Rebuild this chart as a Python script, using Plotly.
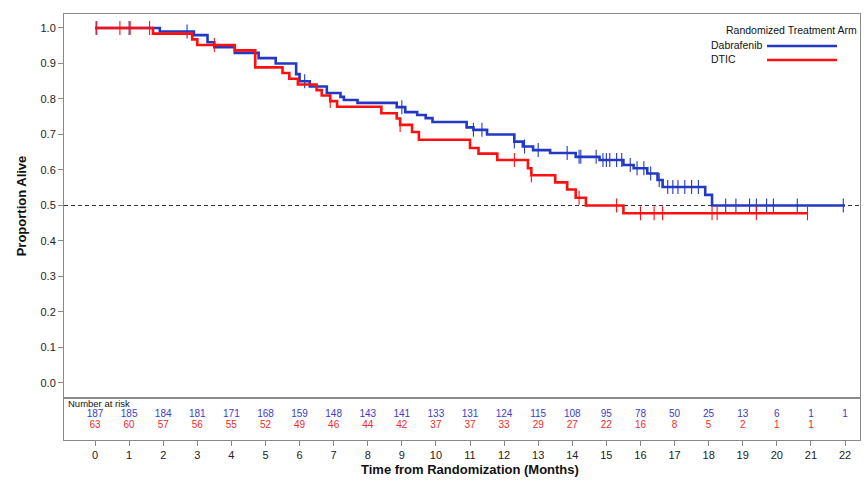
import numpy as np
import plotly.graph_objects as go

# ---------------- data ----------------
# Dabrafenib KM step curve (time in months, survival after each step)
dab_times = [0, 1.9, 2.9, 3.3, 3.5, 4.1, 4.8, 5.3, 5.9, 6.0, 6.3, 6.8, 7.2, 7.3, 7.7,
             8.85, 9.1, 9.45, 9.7, 9.9, 10.9, 11.1, 11.5, 12.3, 12.55, 12.85, 13.35,
             14.1, 14.8, 15.5, 15.8, 16.2, 16.5, 16.65, 17.9, 18.1]
dab_surv = [1.0, 0.99, 0.98, 0.96, 0.946, 0.93, 0.915, 0.90, 0.87, 0.85, 0.835, 0.817,
            0.806, 0.797, 0.789, 0.777, 0.763, 0.755, 0.746, 0.735, 0.72, 0.713, 0.70,
            0.68, 0.666, 0.656, 0.648, 0.637, 0.628, 0.614, 0.605, 0.59, 0.572, 0.552,
            0.53, 0.50]
dab_end = 22.0
dab_censor = [0.05, 1.0, 2.7, 6.15, 9.0, 11.1, 11.35, 12.3, 12.6, 13.0, 13.85, 14.2,
              14.25, 14.7, 14.9, 15.0, 15.1, 15.3, 15.45, 15.7, 15.9, 16.1, 16.3, 16.55,
              16.8, 16.95, 17.1, 17.3, 17.5, 17.7, 18.5, 18.8, 19.2, 19.4, 19.7, 19.9,
              20.6, 21.95]

# DTIC KM step curve
dtic_times = [0, 1.7, 2.85, 3.0, 4.1, 4.7, 5.5, 5.7, 5.95, 6.5, 6.65, 6.9, 7.1, 8.4,
              8.85, 8.95, 9.3, 9.5, 11.0, 11.25, 11.8, 12.7, 12.8, 13.5, 13.85, 14.1,
              14.4, 15.5]
dtic_surv = [1.0, 0.984, 0.968, 0.952, 0.937, 0.889, 0.873, 0.857, 0.841, 0.825, 0.810,
             0.794, 0.778, 0.760, 0.745, 0.727, 0.707, 0.685, 0.662, 0.646, 0.628, 0.605,
             0.585, 0.565, 0.545, 0.522, 0.50, 0.478]
dtic_end = 20.9
dtic_censor = [0.03, 0.73, 1.03, 1.6, 3.5, 6.9, 8.95, 12.3, 12.8, 14.2, 15.3, 16.0, 16.4,
               16.65, 18.1, 18.25, 19.4, 20.9]

# Number at risk
risk_months = list(range(0, 23))
dab_risk = [187, 185, 184, 181, 171, 168, 159, 148, 143, 141, 133, 131, 124, 115, 108,
            95, 78, 50, 25, 13, 6, 1, 1]
dtic_risk = [63, 60, 57, 56, 55, 52, 49, 46, 44, 42, 37, 37, 33, 29, 27, 22, 16, 8, 5,
             2, 1, 1]

y_ticks = [0.0, 0.1, 0.2, 0.3, 0.4, 0.5, 0.6, 0.7, 0.8, 0.9, 1.0]
x_ticks = list(range(0, 23))

BLUE = "#2339c4"
RED = "#ff1010"
BLUE_TXT = "#3b3bd0"
RED_TXT = "#ee2a2a"
FRAME = "#8a8a8a"
FONT = "Liberation Sans, Arial, sans-serif"


def step_at(times, surv, t):
    i = np.searchsorted(np.array(times), t, side="right") - 1
    return surv[max(i, 0)]


fig = go.Figure()

for times, surv, end, cens, col, name in [
    (dab_times, dab_surv, dab_end, dab_censor, BLUE, "Dabrafenib"),
    (dtic_times, dtic_surv, dtic_end, dtic_censor, RED, "DTIC"),
]:
    xs = list(times) + [end]
    ys = list(surv) + [surv[-1]]
    fig.add_trace(go.Scatter(x=xs, y=ys, mode="lines", line=dict(color=col, width=2.6, shape="hv"),
                             name=name, showlegend=False, xaxis="x", yaxis="y"))
    cy = [step_at(times, surv, t) for t in cens]
    fig.add_trace(go.Scatter(x=cens, y=cy, mode="markers",
                             marker=dict(symbol="line-ns", size=10, line=dict(color=col, width=1.1)),
                             showlegend=False, xaxis="x", yaxis="y", hoverinfo="skip"))

# number at risk rows
fig.add_trace(go.Scatter(x=risk_months, y=[0.60] * len(dab_risk), mode="text",
                         text=[str(v) for v in dab_risk],
                         textfont=dict(color=BLUE_TXT, size=10, family=FONT),
                         showlegend=False, xaxis="x2", yaxis="y2", cliponaxis=False))
fig.add_trace(go.Scatter(x=risk_months[:len(dtic_risk)], y=[0.35] * len(dtic_risk), mode="text",
                         text=[str(v) for v in dtic_risk],
                         textfont=dict(color=RED_TXT, size=10, family=FONT),
                         showlegend=False, xaxis="x2", yaxis="y2", cliponaxis=False))

D = (440 - 398) / 426.0
XR = [-0.91, 22.44]

fig.update_layout(
    width=864, height=484,
    margin=dict(l=64, r=4, t=14, b=44),
    paper_bgcolor="white", plot_bgcolor="white",
    font=dict(family=FONT, color="#222"),
    showlegend=False,
    xaxis=dict(domain=[0, 1], anchor="y", range=XR, showline=True, mirror=True,
               linecolor=FRAME, linewidth=1, ticks="", showticklabels=False,
               showgrid=False, zeroline=False),
    yaxis=dict(domain=[D, 1], anchor="x", range=[-0.0423, 1.0394], tickvals=y_ticks,
               ticktext=["%.1f" % v for v in y_ticks], ticks="outside", ticklen=5,
               tickcolor=FRAME, showline=True, mirror=True, linecolor=FRAME, linewidth=1,
               showgrid=False, zeroline=False, tickfont=dict(size=11, color="#222"),
               title=dict(text="<b>Proportion Alive</b>", font=dict(size=13, color="#111"),
                          standoff=10)),
    xaxis2=dict(domain=[0, 1], anchor="y2", matches="x", range=XR, tickvals=x_ticks,
                ticktext=[str(v) for v in x_ticks], ticks="outside", ticklen=5,
                tickcolor=FRAME, showline=True, mirror=True, linecolor=FRAME, linewidth=1,
                showgrid=False, zeroline=False, tickfont=dict(size=11, color="#222")),
    yaxis2=dict(domain=[0, D], anchor="x2", range=[0, 1], showline=True, mirror=True,
                linecolor=FRAME, linewidth=1, ticks="", showticklabels=False,
                showgrid=False, zeroline=False),
)

fig.add_shape(type="line", xref="paper", x0=0, x1=1, yref="y", y0=0.5, y1=0.5,
              line=dict(color="#333", width=1, dash="4px,3px"), layer="below")


def px_x(p):
    return (p - 64) / 796.0


def px_y(p):
    return (440 - p) / 426.0


annotations = [
    dict(text="Number at risk", x=-0.84, xref="x2", y=0.88, yref="y2", xanchor="left",
         yanchor="middle", showarrow=False, font=dict(size=9.5, color="#111")),
    dict(text="<b>Time from Randomization (Months)</b>", x=11, xref="x2", y=px_y(470),
         yref="paper", xanchor="center", yanchor="middle", showarrow=False,
         font=dict(size=13, color="#111")),
    dict(text="Randomized Treatment Arm", x=px_x(859), xref="paper", y=px_y(30), yref="paper",
         xanchor="right", yanchor="middle", showarrow=False, font=dict(size=10.5, color="#111")),
    dict(text="Dabrafenib", x=px_x(709), xref="paper", y=px_y(45), yref="paper",
         xanchor="left", yanchor="middle", showarrow=False, font=dict(size=10.5, color="#111")),
    dict(text="DTIC", x=px_x(709), xref="paper", y=px_y(59), yref="paper",
         xanchor="left", yanchor="middle", showarrow=False, font=dict(size=10.5, color="#111")),
]
fig.update_layout(annotations=annotations)

fig.add_shape(type="line", xref="paper", yref="paper", x0=px_x(767), x1=px_x(837),
              y0=px_y(46), y1=px_y(46), line=dict(color=BLUE, width=2.6))
fig.add_shape(type="line", xref="paper", yref="paper", x0=px_x(767), x1=px_x(837),
              y0=px_y(60), y1=px_y(60), line=dict(color=RED, width=2.6))

fig.write_html(
    "out.html",
    config={"displayModeBar": False},
    post_script="document.body.style.margin='0px';document.body.style.overflow='hidden';",
)
